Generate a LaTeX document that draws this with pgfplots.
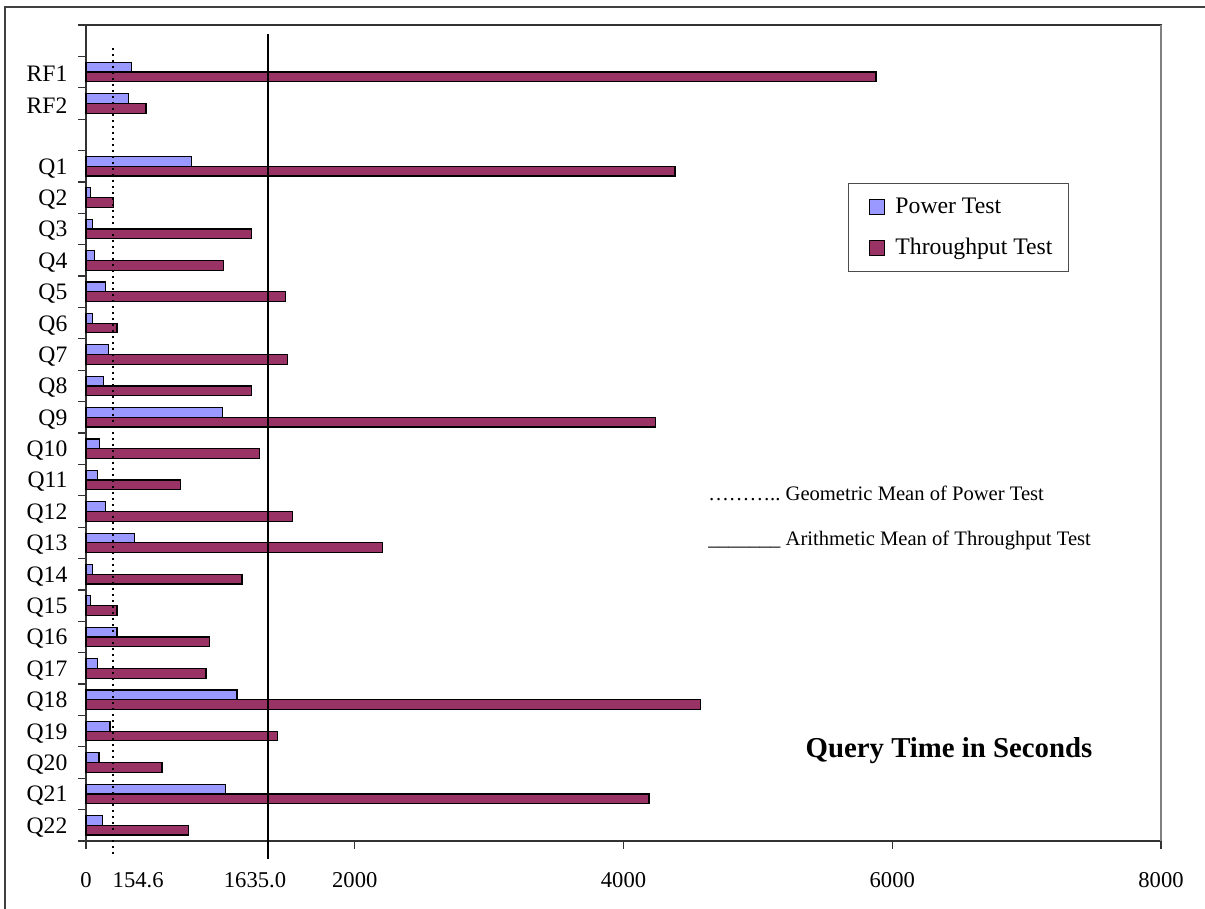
\documentclass[border=0pt]{standalone}
\usepackage{pgfplots}
\pgfplotsset{compat=1.18}
\usepackage{pgfplotstable}
\usepackage{fontspec}
\setmainfont{Liberation Serif}

\definecolor{powc}{HTML}{9999FF}
\definecolor{thrc}{HTML}{993366}

% query times in seconds, pos = row on the y axis (Q22 at the bottom)
\pgfplotstableread{
pos name power thru
24  RF1  340   5879
23  RF2  315   447
21  Q1   787   4383
20  Q2   35    203
19  Q3   50    1230
18  Q4   62    1025
17  Q5   144   1486
16  Q6   50    231
15  Q7   169   1498
14  Q8   132   1233
13  Q9   1014  4240
12  Q10  99    1290
11  Q11  84    702
10  Q12  144   1535
9   Q13  362   2208
8   Q14  50    1161
7   Q15  35    231
6   Q16  231   918
5   Q17  84    893
4   Q18  1124  4575
3   Q19  179   1424
2   Q20  97    566
1   Q21  1040  4190
0   Q22  121   761
}\qtimes

\begin{document}
\begin{tikzpicture}
\useasboundingbox (-43pt,-34pt) rectangle (559.5pt,420.5pt);
\draw[black!75, line width=1pt] (-40.5pt,-40pt) -- (-40.5pt,417pt) -- (570pt,417pt);
\begin{axis}[
  at={(0pt,0pt)}, anchor=south west,
  scale only axis, width=537.5pt, height=408pt,
  xbar, bar width=0.31,
  legend image code/.code={\path (-4pt,0pt) (10.8pt,0pt);
    \draw[#1] (0pt,-3.7pt) rectangle (7.5pt,3.7pt);},
  xmin=0, xmax=8000, ymin=-0.5, ymax=25.5,
  clip=false,
  axis line style={black!80, line width=0.6pt},
  tick align=outside,
  xtick pos=bottom, ytick pos=left,
  major tick length=0pt, minor tick length=3.8pt,
  every tick/.style={black!80, line width=0.6pt},
  xtick={0,2000,4000,6000,8000},
  minor xtick={0,2000,4000,6000,8000},
  ytick={0,1,...,21,23,24},
  yticklabels={Q22,Q21,Q20,Q19,Q18,Q17,Q16,Q15,Q14,Q13,Q12,Q11,Q10,Q9,Q8,Q7,Q6,Q5,Q4,Q3,Q2,Q1,RF2,RF1},
  minor ytick={-0.5,0.5,...,25.5},
  /pgf/number format/.cd, 1000 sep={}, assume math mode=true, /pgfplots/.cd,
  xticklabel style={font=\fontsize{11.3}{13}\selectfont, yshift=-12.2pt},
  yticklabel style={font=\fontsize{11.8}{14}\selectfont, xshift=-5.8pt, yshift=-1pt},
  legend style={at={(axis description cs:0.709,0.806)}, anchor=north west,
    draw=black!70, line width=0.5pt,
    font=\fontsize{11.85}{14}\selectfont,
    row sep=7pt, inner xsep=6pt, inner ysep=5pt},
  legend cell align=left,
]
\addplot[draw=black, line width=0.6pt, fill=powc, bar shift=0.155]
  table[x=power, y=pos] {\qtimes};
\addlegendentry{Power Test}
\addplot[draw=black, line width=0.6pt, fill=thrc, bar shift=-0.155]
  table[x=thru, y=pos] {\qtimes};
\addlegendentry{Throughput Test}

% mean lines
\draw[black, line width=1pt, dash pattern=on 1pt off 2pt] (axis cs:199,24.77) -- (axis cs:199,-1.01);
\draw[black, line width=1pt] (axis cs:1357,25.21) -- (axis cs:1357,-1.07);
\draw[gray, line width=1pt] (axis description cs:1,0) -- (axis description cs:1,1);

\node[anchor=north, font=\fontsize{11.3}{13}\selectfont, inner sep=0.3333em, yshift=-12.2pt]
  at (axis description cs:0.0485,0) {154.6};
\node[anchor=north, font=\fontsize{11.3}{13}\selectfont, inner sep=0.3333em, yshift=-12.2pt]
  at (axis description cs:0.1572,0) {1635.0};

\node[anchor=west, inner sep=0pt, font=\fontsize{10.3}{12}\selectfont]
  at (axis description cs:0.5786,0.4265) {………..\ Geometric Mean of Power Test};
\node[anchor=west, inner sep=0pt, font=\fontsize{10.3}{12}\selectfont]
  at (axis description cs:0.5786,0.3689) {\_\_\_\_\_\_\_\ Arithmetic Mean of Throughput Test};
\node[font=\bfseries\fontsize{14.4}{17}\selectfont]
  at (axis description cs:0.8028,0.1103) {Query Time in Seconds};
\end{axis}
\end{tikzpicture}
\end{document}
